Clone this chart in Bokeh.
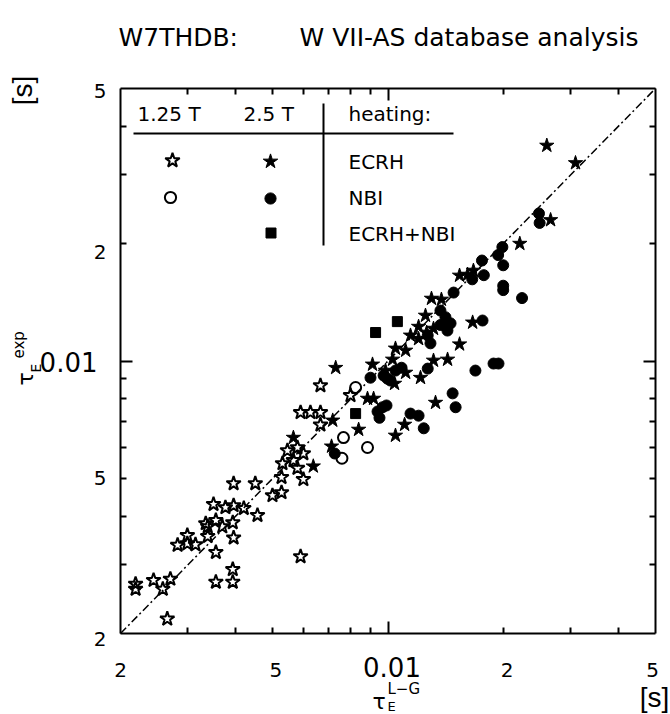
import math
from bokeh.plotting import figure
from bokeh.models import (Range1d, LogAxis, FixedTicker, Label, BoxAnnotation,
                          Legend, LegendItem, CustomJSTickFormatter)
from bokeh.embed import file_html
from bokeh.resources import INLINE

# ---------------- data (tau_E^{L-G}, tau_E^{exp}) in seconds ----------------
# 1.25 T, ECRH (open stars)
ecrh_125_x = [0.00219, 0.00219, 0.00244, 0.00270, 0.00258, 0.00265, 0.00282, 0.00299, 0.00299,
              0.00314, 0.00334, 0.00338, 0.00350, 0.00355, 0.00355, 0.00355, 0.00393, 0.00393,
              0.00395, 0.00450, 0.00456, 0.00376, 0.00395, 0.00420, 0.00393, 0.00369, 0.00338,
              0.00395, 0.00499, 0.00527, 0.00527, 0.00546, 0.00566, 0.00580, 0.00601, 0.00530,
              0.00580, 0.00601, 0.00591, 0.00591, 0.00627, 0.00666, 0.00666, 0.00666, 0.00798]
ecrh_125_y = [0.00268, 0.00260, 0.00274, 0.00276, 0.00260, 0.00218, 0.00337, 0.00357, 0.00340,
              0.00338, 0.00383, 0.00355, 0.00429, 0.00390, 0.00323, 0.00271, 0.00292, 0.00271,
              0.00485, 0.00485, 0.00402, 0.00421, 0.00426, 0.00419, 0.00385, 0.00376, 0.00376,
              0.00352, 0.00452, 0.00460, 0.00503, 0.00589, 0.00556, 0.00600, 0.00579, 0.00546,
              0.00531, 0.00497, 0.00315, 0.00738, 0.00738, 0.00738, 0.00686, 0.00865, 0.00816]

# 1.25 T, NBI (open circles)
nbi_125_x = [0.00823, 0.00765, 0.00758, 0.00884]
nbi_125_y = [0.00855, 0.00636, 0.00563, 0.00600]

# 2.5 T, ECRH (filled stars)
ecrh_25_x = [0.00566, 0.00638, 0.00712, 0.00717, 0.00884, 0.00838, 0.01046, 0.01105, 0.00730,
             0.00911, 0.01028, 0.01046, 0.01112, 0.01202, 0.01145, 0.01299, 0.01379, 0.01315,
             0.01262, 0.01216, 0.01112, 0.01315, 0.01431, 0.01538, 0.01538, 0.01614, 0.01672,
             0.01664, 0.01331, 0.00917, 0.0221, 0.0260, 0.0309, 0.0266, 0.00985, 0.01253,
             0.01202, 0.01040]
ecrh_25_y = [0.00636, 0.00537, 0.00604, 0.00704, 0.00801, 0.00667, 0.00644, 0.00687, 0.00961,
             0.00980, 0.01009, 0.01077, 0.01064, 0.01225, 0.01163, 0.01446, 0.01438, 0.01211,
             0.01183, 0.00906, 0.00934, 0.01003, 0.01009, 0.01104, 0.01657, 0.01666, 0.01706,
             0.01256, 0.00782, 0.00801, 0.0200, 0.0357, 0.0322, 0.0230, 0.00945, 0.01308,
             0.01140, 0.00875]

# 2.5 T, NBI (filled circles)
nbi_25_x = [0.00726, 0.00939, 0.00991, 0.00950, 0.00974, 0.01085, 0.01046, 0.00996, 0.00900,
            0.01371, 0.01413, 0.01457, 0.01430, 0.01291, 0.01484, 0.01766, 0.01692, 0.01887,
            0.01944, 0.01475, 0.01502, 0.00968, 0.01145, 0.01202, 0.01240, 0.01270, 0.0248,
            0.0249, 0.0199, 0.0194, 0.0176, 0.0200, 0.0178, 0.0166, 0.0200, 0.0200, 0.0224,
            0.01371, 0.01015, 0.01270]
nbi_25_y = [0.00579, 0.00742, 0.00769, 0.00715, 0.00918, 0.00961, 0.00945, 0.00901, 0.00906,
            0.01347, 0.01295, 0.01249, 0.01197, 0.01110, 0.01498, 0.01270, 0.00945, 0.00985,
            0.00985, 0.00826, 0.00761, 0.00761, 0.00733, 0.00724, 0.00672, 0.00956, 0.0239,
            0.0226, 0.0196, 0.0187, 0.0181, 0.0176, 0.0166, 0.0162, 0.0156, 0.0152, 0.0145,
            0.01237, 0.00891, 0.01163]

# 2.5 T, ECRH+NBI (filled squares)
mix_25_x = [0.00823, 0.00928, 0.01058]
mix_25_y = [0.00733, 0.01183, 0.01262]

tick_vals = [0.002, 0.005, 0.01, 0.02, 0.05]
tick_text = ["2", "5", "0.01", "2", "5"]
minor_vals = [0.003, 0.004, 0.005, 0.006, 0.007, 0.008, 0.009, 0.02, 0.03, 0.04]
axis_min, axis_max = 0.002, 0.05

FONT = "DejaVu Sans"
W, H = 670, 714
# where the axis box sits on the page (pixels from the top-left corner)
BOX_L, BOX_R, BOX_T, BOX_B = 120, 655, 88, 633

decades = math.log10(axis_max / axis_min)
xppd = (BOX_R - BOX_L) / decades
yppd = (BOX_B - BOX_T) / decades
x_lo = axis_min / 10 ** (BOX_L / xppd)
x_hi = axis_max * 10 ** ((W - BOX_R) / xppd)
y_lo = axis_min / 10 ** ((H - BOX_B) / yppd)
y_hi = axis_max * 10 ** (BOX_T / yppd)

p = figure(width=W, height=H, x_axis_type="log", y_axis_type="log",
           x_range=Range1d(x_lo, x_hi), y_range=Range1d(y_lo, y_hi),
           output_backend="svg", toolbar_location=None, min_border=0)
p.xgrid.visible = False
p.ygrid.visible = False
p.outline_line_color = None
p.background_fill_color = "white"
p.border_fill_color = "white"

p.add_layout(LogAxis(), "above")
p.add_layout(LogAxis(), "right")
p.below[0].fixed_location = axis_min
p.left[0].fixed_location = axis_min
p.above[0].fixed_location = axis_max
p.right[0].fixed_location = axis_max
for ax in p.axis:
    ax.bounds = (axis_min, axis_max)
    ax.ticker = FixedTicker(ticks=[0.01], minor_ticks=minor_vals)
    ax.formatter = CustomJSTickFormatter(code="return '';")
    ax.major_label_text_font_size = "0px"
    ax.axis_line_width = 2
    ax.axis_line_color = "black"
    ax.major_tick_in = 12
    ax.major_tick_out = 0
    ax.minor_tick_in = 6
    ax.minor_tick_out = 0
    ax.major_tick_line_width = 2
    ax.minor_tick_line_width = 2
    ax.major_label_standoff = 0

# diagonal tau_exp = tau_LG across the axis box
p.line([axis_min, axis_max], [axis_min, axis_max], line_color="black", line_width=1.5,
       line_dash="8 3 2 3")

r_hs = p.scatter(ecrh_125_x, ecrh_125_y, marker="star", size=15, fill_color=None,
                 line_color="black", line_width=2)
r_hc = p.scatter(nbi_125_x, nbi_125_y, marker="circle", size=11, fill_color=None,
                 line_color="black", line_width=2)
r_fs = p.scatter(ecrh_25_x, ecrh_25_y, marker="star", size=15, fill_color="black",
                 line_color="black", line_width=1)
r_fc = p.scatter(nbi_25_x, nbi_25_y, marker="circle", size=11, fill_color="black",
                 line_color="black", line_width=1)
r_sq = p.scatter(mix_25_x, mix_25_y, marker="square", size=10, fill_color="black",
                 line_color="black", line_width=1)

# screen helpers: page pixels (from top-left) -> bokeh screen units (from bottom-left)
def sy(py):
    return H - py

def key(renderer, cx, cy, g):
    leg = Legend(items=[LegendItem(label=" ", renderers=[renderer])],
                 location=(cx - g // 2, sy(cy) - g // 2), glyph_width=g, glyph_height=g,
                 padding=0, margin=0, spacing=0, label_standoff=0, label_width=0,
                 label_height=0, label_text_font_size="1px", border_line_alpha=0,
                 background_fill_alpha=0)
    p.add_layout(leg)

def txt(text, x, y, size, align="left", baseline="middle", angle=0.0, font=FONT,
        xu="screen", dx=0):
    p.add_layout(Label(x=x, y=sy(y), x_units=xu, y_units="screen", text=text, text_font=font,
                       text_font_size=f"{size}px", text_align=align, text_baseline=baseline,
                       angle=angle, text_color="black", x_offset=dx))

# ---------------- key table ----------------
key(r_hs, 172, 160, 38)
key(r_fs, 270, 161, 38)
key(r_hc, 170, 197, 28)
key(r_fc, 270, 198, 28)
key(r_sq, 270, 233, 25)

txt("1.25 T", 137, 113, 20)
txt("2.5 T", 243, 113, 20)
txt("heating:", 348, 113, 20)
txt("ECRH", 348, 161, 20)
txt("NBI", 348, 197, 20)
txt("ECRH+NBI", 348, 233, 20)
p.add_layout(BoxAnnotation(left=322, right=324, bottom=sy(245), top=sy(103),
                           left_units="screen", right_units="screen",
                           bottom_units="screen", top_units="screen",
                           fill_color="black", fill_alpha=1, line_alpha=0))
p.add_layout(BoxAnnotation(left=133, right=453, bottom=sy(134), top=sy(132),
                           left_units="screen", right_units="screen",
                           bottom_units="screen", top_units="screen",
                           fill_color="black", fill_alpha=1, line_alpha=0))

# ---------------- tick labels ----------------
x_nudge = [0, 3, 4, 4, -3]
y_nudge = [-5, 0, -1, -8, -2]
for v, t, dx, dy in zip(tick_vals, tick_text, x_nudge, y_nudge):
    big = t == "0.01"
    txt(t, v, 666 if big else 669, 26 if big else 20, align="center", xu="data", dx=dx)
    p.add_layout(Label(x=97 if big else 106, y=v, x_units="screen", y_units="data", text=t,
                       text_font=FONT, text_font_size="26px" if big else "20px",
                       text_align="right", text_baseline="middle", text_color="black",
                       y_offset=dy))

# ---------------- titles ----------------
txt("W7THDB:", 118, 37, 25)
txt("W VII-AS database analysis", 299, 37, 25)

# x axis title
txt("τ", 372, 701, 22, baseline="alphabetic")
txt("E", 387, 706, 13, baseline="alphabetic")
txt("L−G", 387, 688, 15, baseline="alphabetic")
txt("[s]", 654, 697, 28, align="center", font="Liberation Sans")

# y axis title (rotated)
half_pi = math.pi / 2
txt("τ", 25, 385, 22, baseline="alphabetic", angle=half_pi)
txt("E", 35, 372, 14, baseline="alphabetic", angle=half_pi)
txt("exp", 18, 358, 15, baseline="alphabetic", angle=half_pi)
txt("[s]", 22, 90, 28, align="center", angle=half_pi, font="Liberation Sans")

open("out.html", "w").write(file_html(p, INLINE))
